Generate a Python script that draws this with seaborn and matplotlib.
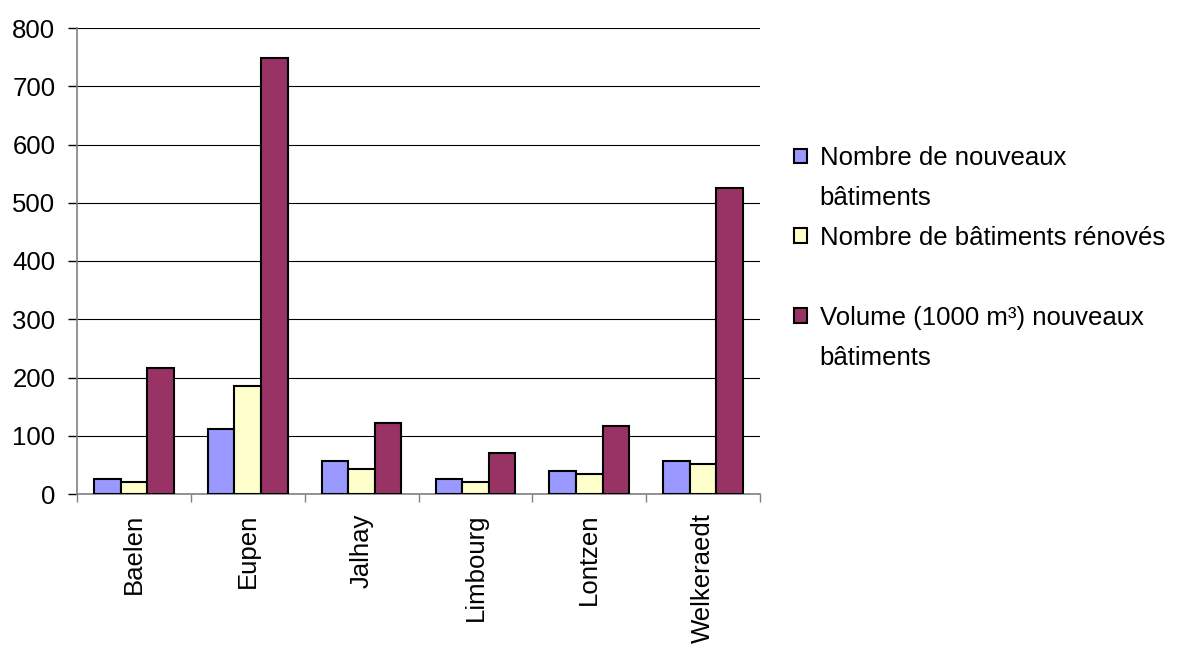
import numpy as np
import pandas as pd
import seaborn as sns
from matplotlib import pyplot as plt
from matplotlib.patches import Patch
from matplotlib.ticker import MultipleLocator, FixedLocator

# données
communes = ['Baelen', 'Eupen', 'Jalhay', 'Limbourg', 'Lontzen', 'Welkeraedt']
series = ['Nombre de nouveaux bâtiments',
          'Nombre de bâtiments rénovés',
          'Volume (1000 m³) nouveaux bâtiments']
nouveaux = [25, 112, 56, 25, 39, 56]
renoves = [21, 186, 43, 21, 34, 51]
volume = [216, 748, 122, 70, 117, 525]
couleurs = ['#9999FF', '#FFFFCC', '#993366']

df = pd.DataFrame({
    'commune': communes * 3,
    'serie': [series[0]] * 6 + [series[1]] * 6 + [series[2]] * 6,
    'valeur': nouveaux + renoves + volume,
})

sns.set_style('white')
plt.rcParams['font.family'] = ['Liberation Sans', 'DejaVu Sans']
plt.rcParams['text.color'] = 'black'
fs = 18.5

fig = plt.figure(figsize=(11.86, 6.48), dpi=100)
ax = fig.add_axes([77 / 1186, 1 - 494 / 648, 683 / 1186, 466 / 648])

sns.barplot(data=df, x='commune', y='valeur', hue='serie', order=communes,
            hue_order=series, palette=couleurs, saturation=1, width=0.7,
            edgecolor='black', linewidth=1.5, ax=ax, zorder=3, legend=False)

ax.set_ylim(0, 800)
ax.set_xlim(-0.5, 5.5)
ax.yaxis.set_major_locator(MultipleLocator(100))
ax.grid(axis='y', color='black', linewidth=0.8, zorder=0)
ax.set_axisbelow(True)

for s in ['top', 'right']:
    ax.spines[s].set_visible(False)
for s in ['left', 'bottom']:
    ax.spines[s].set_color('#808080')
    ax.spines[s].set_linewidth(1.2)

ax.set_xlabel('')
ax.set_ylabel('')
ax.tick_params(axis='y', which='major', left=True, length=6.5, width=1,
               color='black', labelsize=fs, labelcolor='black', pad=9)
ax.set_xticks(range(len(communes)))
ax.set_xticklabels(communes, rotation=90, fontsize=fs, color='black')
ax.tick_params(axis='x', which='major', length=0, pad=14)
ax.xaxis.set_minor_locator(FixedLocator(np.arange(-0.5, 6, 1)))
ax.tick_params(axis='x', which='minor', bottom=True, length=6, width=1, color='#808080')

# légende : libellés sur deux lignes comme dans l'original
vide = Patch(visible=False)
handles = [Patch(facecolor=couleurs[0], edgecolor='black', linewidth=1.5), vide,
           Patch(facecolor=couleurs[1], edgecolor='black', linewidth=1.5), vide,
           Patch(facecolor=couleurs[2], edgecolor='black', linewidth=1.5), vide]
labels = ['Nombre de nouveaux', 'bâtiments',
          'Nombre de bâtiments rénovés', '',
          'Volume (1000 m³) nouveaux', 'bâtiments']
leg = fig.legend(handles, labels, loc='upper left',
                 bbox_to_anchor=(794 / 1186, 1 - 146 / 648), bbox_transform=fig.transFigure,
                 frameon=False, fontsize=fs, handlelength=0.5, handleheight=0.5,
                 handletextpad=0.5, labelspacing=0.62, borderpad=0, borderaxespad=0)
for t in leg.get_texts():
    t.set_color('black')

plt.savefig('out.png', dpi=100)
